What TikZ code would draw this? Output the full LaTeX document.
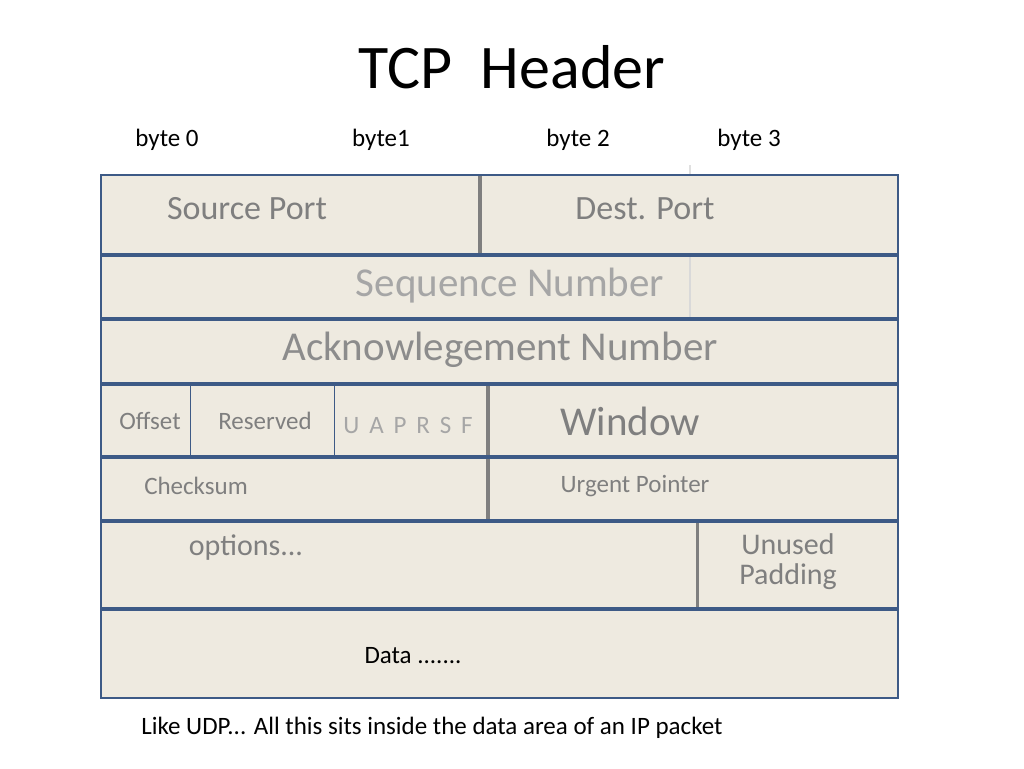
\documentclass[tikz,border=0pt]{standalone}
\usepackage{fontspec}
\setmainfont{Carlito}
\begin{document}
\begin{tikzpicture}[x=1pt,y=-1pt,
  row/.style={draw=rowblue,line width=1.6pt,fill=boxfill},
  gdiv/.style={draw=divgray,line width=4pt},
  lbl/.style={text=txtgray,anchor=center,inner sep=0pt},
  sm/.style={font=\fontsize{25}{30}\selectfont},
  md/.style={font=\fontsize{34}{40}\selectfont},
  lg/.style={font=\fontsize{41}{48}\selectfont}]
\definecolor{rowblue}{HTML}{3D5A86}
\definecolor{boxfill}{HTML}{EEEAE0}
\definecolor{divgray}{HTML}{7F7F7F}
\definecolor{txtgray}{HTML}{7F7F7F}
\definecolor{lightgray}{HTML}{A6A6A6}
\useasboundingbox (0,0) rectangle (1024,768);
\node[inner sep=0pt,font=\fontsize{62}{70}\selectfont] (title) at (512,67) {TCP\ \ Header};
\node[sm,inner sep=0pt] (b0) at (167,140) {byte 0};
\node[sm,inner sep=0pt] (b1) at (381,140) {byte1};
\node[sm,inner sep=0pt] (b2) at (578,140) {byte 2};
\node[sm,inner sep=0pt] (b3) at (749,140) {byte 3};
\draw[row] (101,175) rectangle (898,254);
\draw[row] (101,256) rectangle (898,318);
\draw[row] (101,320) rectangle (898,383);
\draw[row] (101,385) rectangle (898,456);
\draw[row] (101,458) rectangle (898,520);
\draw[row] (101,522) rectangle (898,608);
\draw[row] (101,610) rectangle (898,698);
\draw[gdiv] (480,176) -- (480,253);
\draw[gdiv] (488,386) -- (488,455);
\draw[gdiv] (488,459) -- (488,519);
\draw[draw=divgray,line width=3pt] (697,523) -- (697,607);
\draw[draw=black!12,line width=1.5pt] (690,165) -- (690,174);
\draw[draw=black!15,line width=1.5pt] (690,257) -- (690,317);
\draw[draw=rowblue,line width=0.8pt] (190,386) -- (190,455);
\draw[draw=rowblue,line width=0.8pt] (334,386) -- (334,455);
\node[lbl,md] (sp) at (247,209) {Source Port};
\node[lbl,md] (dp) at (645,209) {Dest. Port};
\node[lbl,lg,text=lightgray] (seq) at (510,286) {Sequence Number};
\node[lbl,lg,text=txtgray!90] (ack) at (500,350) {Acknowlegement Number};
\node[lbl,sm] (off) at (150,421) {Offset};
\node[lbl,sm] (res) at (265,421) {Reserved};
\node[lbl,sm,text=lightgray] (fl) at (408,425) {U\,\ A\,\ P\,\ R\,\ S\,\ F};
\node[lbl,lg] (win) at (630,421) {Window};
\node[lbl,sm] (cs) at (196,486) {Checksum};
\node[lbl,sm] (up) at (635,486) {Urgent Pointer};
\node[lbl,font=\fontsize{30}{30}\selectfont] (op) at (246,548) {options...};
\node[lbl,font=\fontsize{30}{30}\selectfont,align=center] (un) at (788,562) {Unused\\Padding};
\node[sm,inner sep=0pt] (data) at (413,656) {Data .......};
\node[sm,inner sep=0pt] (foot) at (432,728) {Like UDP... All this sits inside the data area of an IP packet};
\end{tikzpicture}
\end{document}
